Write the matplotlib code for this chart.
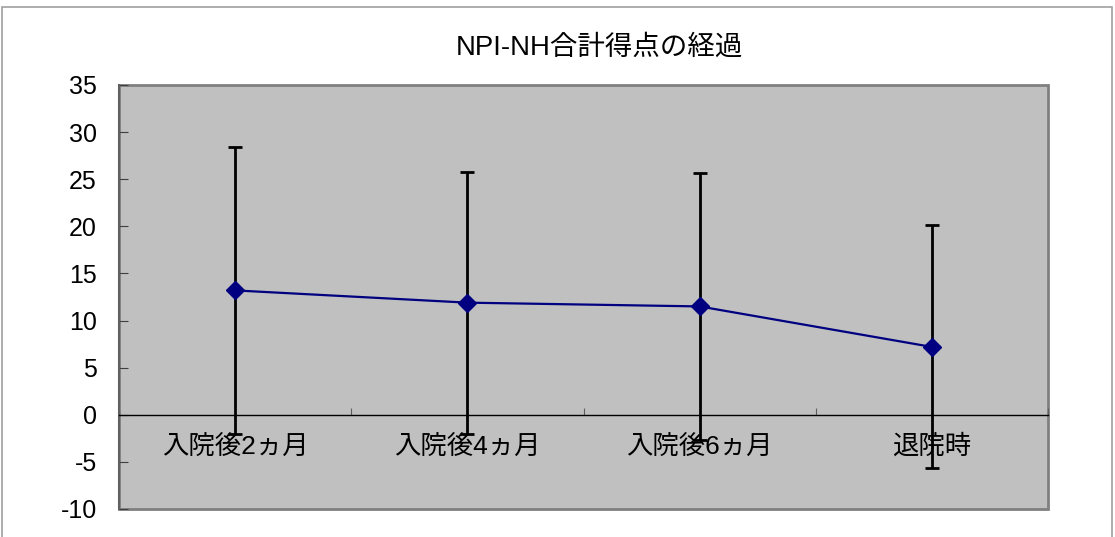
import matplotlib.pyplot as plt
from matplotlib.patches import Rectangle
from matplotlib.ticker import FixedLocator, NullFormatter

plt.rcParams['font.family'] = ['Liberation Sans', 'Noto Sans CJK JP', 'DejaVu Sans']

categories = ['入院後2ヵ月', '入院後4ヵ月', '入院後6ヵ月', '退院時']
means = [13.2, 11.9, 11.5, 7.2]
sds = [15.2, 13.9, 14.2, 12.9]
y_ticks = [-10, -5, 0, 5, 10, 15, 20, 25, 30, 35]
title = 'NPI-NH合計得点の経過'

fig = plt.figure(figsize=(11.15, 5.37), dpi=100)
# outer chart border (bottom cut off like the reference)
fig.patches.append(Rectangle((2 / 1115, -0.05), 1110 / 1115, 1.05 - 7 / 537,
                             transform=fig.transFigure, fill=False,
                             edgecolor='#a0a0a0', lw=1.2))

ax = fig.add_axes([119 / 1115, 1 - 509 / 537, 929 / 1115, 424 / 537])
ax.set_facecolor('#c0c0c0')
ax.patch.set_edgecolor('#808080')
ax.patch.set_linewidth(2)

x = list(range(len(categories)))
ax.errorbar(x, means, yerr=sds, color='#000080', lw=1.6, marker='D',
            markersize=9, markeredgecolor='#000080', markerfacecolor='#000080',
            ecolor='black', elinewidth=2, capsize=5, capthick=2, zorder=3)

ax.set_xlim(-0.5, len(categories) - 0.5)
ax.set_ylim(-10, 35)
ax.set_yticks(y_ticks)
ax.set_yticklabels([str(v) for v in y_ticks])

ax.spines['top'].set_visible(False)
ax.spines['right'].set_visible(False)
ax.spines['left'].set_color('#606060')
ax.spines['left'].set_linewidth(1.5)
ax.spines['bottom'].set_position(('data', 0))
ax.spines['bottom'].set_color('black')
ax.spines['bottom'].set_linewidth(1)

ax.xaxis.set_major_locator(FixedLocator([i + 0.5 for i in x]))
ax.xaxis.set_major_formatter(NullFormatter())
ax.xaxis.set_minor_locator(FixedLocator(x))
ax.set_xticklabels(categories, minor=True)
ax.tick_params(axis='x', which='major', direction='in', length=5, color='#606060')
ax.tick_params(axis='x', which='minor', length=0, pad=14, labelsize=19)
ax.tick_params(axis='y', direction='in', length=6.5, color='#404040',
               pad=16, labelsize=18)

fig.text(599 / 1115, 1 - 48 / 537, title, ha='center', va='center', fontsize=19.8)

fig.savefig('out.png', dpi=100)
